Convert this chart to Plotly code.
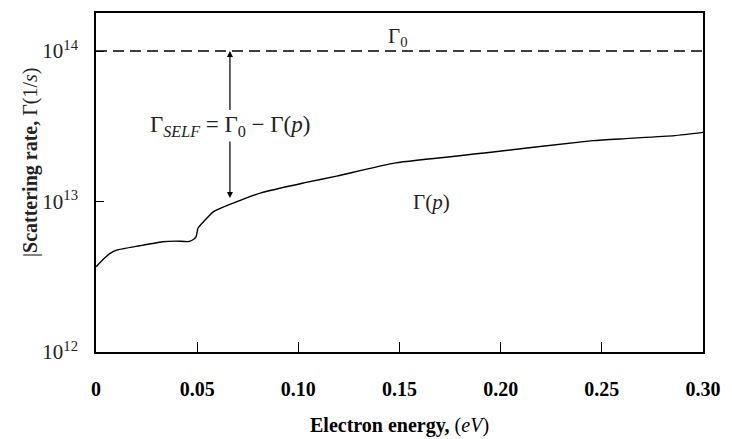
import plotly.graph_objects as go

# Data
energy = [0.0001, 0.0037, 0.0070, 0.0102, 0.0216, 0.0329, 0.0394, 0.0459, 0.0483, 0.0495,
          0.0504, 0.0532, 0.0581, 0.0662, 0.0816, 0.1027, 0.1189, 0.1481, 0.1920, 0.2455,
          0.2617, 0.2860, 0.3000]
gamma_p = [3.69e12, 4.15e12, 4.52e12, 4.75e12, 5.08e12, 5.40e12, 5.46e12, 5.42e12, 5.62e12, 5.85e12,
           6.65e12, 7.35e12, 8.57e12, 9.57e12, 1.143e13, 1.330e13, 1.476e13, 1.807e13, 2.10e13, 2.54e13,
           2.62e13, 2.74e13, 2.88e13]
gamma0 = 1e14
x_ticks = [0, 0.05, 0.10, 0.15, 0.20, 0.25, 0.30]
x_ticklabels = ["0", "0.05", "0.10", "0.15", "0.20", "0.25", "0.30"]
y_ticks = [1e12, 1e13, 1e14]
y_ticklabels = ["10<sup>12</sup>", "10<sup>13</sup>", "10<sup>14</sup>"]
arrow_x = 0.0662
arrow_gap = [13.413, 13.599]   # log10 values where the arrow is broken by the label
arrow_tip_low = 13.023

SERIF = "Liberation Serif"

fig = go.Figure()
fig.add_trace(go.Scatter(x=energy, y=gamma_p, mode="lines",
                         line=dict(color="black", width=1.4, shape="spline", smoothing=0.5),
                         showlegend=False))
fig.add_trace(go.Scatter(x=[0, 0.3], y=[gamma0, gamma0], mode="lines",
                         line=dict(color="black", width=1.5, dash="11px,6px"),
                         showlegend=False))

fig.update_xaxes(range=[0, 0.3], tickvals=x_ticks, ticktext=x_ticklabels,
                 ticks="inside", ticklen=10, tickwidth=1.2, tickcolor="black",
                 showline=True, linecolor="black", linewidth=1.5, mirror=True,
                 showgrid=False, zeroline=False,
                 tickfont=dict(family=SERIF, size=20, color="black", weight="bold"),
                 ticklabelstandoff=18)
fig.update_yaxes(type="log", range=[12, 14.253], tickvals=y_ticks, ticktext=y_ticklabels,
                 ticks="inside", ticklen=8, tickwidth=1.2, tickcolor="black",
                 showline=True, linecolor="black", linewidth=1.5, mirror=True,
                 showgrid=False, zeroline=False,
                 tickfont=dict(family=SERIF, size=21, color="#222"),
                 ticklabelstandoff=12)

ann = []
# arrows
ann.append(dict(x=arrow_x, y=14.0, ax=arrow_x, ay=arrow_gap[1], xref="x", yref="y",
                axref="x", ayref="y", showarrow=True, arrowhead=2, arrowsize=1,
                arrowwidth=1.2, arrowcolor="black", text=""))
ann.append(dict(x=arrow_x, y=arrow_tip_low, ax=arrow_x, ay=arrow_gap[0], xref="x", yref="y",
                axref="x", ayref="y", showarrow=True, arrowhead=2, arrowsize=1,
                arrowwidth=1.2, arrowcolor="black", text=""))
ann.append(dict(x=arrow_x, y=13.5, xref="x", yref="y", showarrow=False,
                text="Γ<sub><i>SELF</i></sub> = Γ<sub>0</sub> − Γ(<i>p</i>)",
                font=dict(family=SERIF, size=23, color="#222"), bgcolor="white"))
ann.append(dict(x=0.149, y=14.095, xref="x", yref="y", showarrow=False,
                text="Γ<sub>0</sub>", font=dict(family=SERIF, size=21, color="#222")))
ann.append(dict(x=0.166, y=13.0, xref="x", yref="y", showarrow=False,
                text="Γ(<i>p</i>)", font=dict(family=SERIF, size=21, color="#222")))
# axis titles
ann.append(dict(x=0.5, y=-0.216, xref="paper", yref="paper", showarrow=False,
                xanchor="center", yanchor="middle",
                text="<b>Electron energy,</b> (<i>eV</i>)",
                font=dict(family=SERIF, size=20, color="black")))
ann.append(dict(x=-0.109, y=0.56, xref="paper", yref="paper", showarrow=False,
                xanchor="center", yanchor="middle", textangle=-90,
                text="|<b>Scattering rate,</b> Γ(1/<i>s</i>)",
                font=dict(family=SERIF, size=20, color="#222")))

fig.update_layout(width=732, height=439, margin=dict(l=96, r=20, t=11, b=87, pad=0),
                  plot_bgcolor="white", paper_bgcolor="white", annotations=ann)
fig.write_html("out.html")
